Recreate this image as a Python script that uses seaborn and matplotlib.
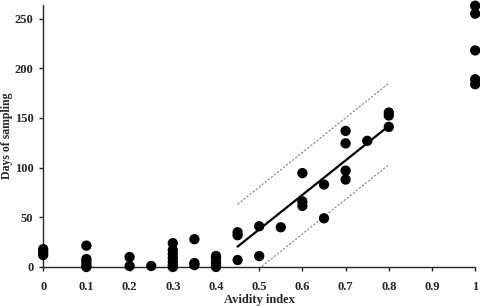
import numpy as np
import pandas as pd
import matplotlib
matplotlib.use("Agg")
import matplotlib.pyplot as plt
import seaborn as sns

# avidity index vs days of sampling
avidity = [0, 0, 0,
           0.1, 0.1, 0.1, 0.1, 0.1,
           0.2, 0.2, 0.25,
           0.3, 0.3, 0.3, 0.3, 0.3, 0.3, 0.3,
           0.35, 0.35, 0.35,
           0.4, 0.4, 0.4, 0.4, 0.4,
           0.45, 0.45, 0.45,
           0.5, 0.5, 0.55,
           0.6, 0.6, 0.6,
           0.65, 0.65,
           0.7, 0.7, 0.7, 0.7,
           0.75,
           0.8, 0.8, 0.8,
           1, 1, 1, 1, 1]
days = [18, 15, 12,
        21.5, 8, 5, 2, 0,
        10, 1, 1,
        24, 17, 13, 9, 5, 2, 0,
        28, 4, 2,
        11, 9, 5, 2, 0,
        35, 32, 7,
        41, 11, 40,
        94.5, 66, 61.5,
        83, 49,
        137, 124.5, 97, 88,
        127,
        155.5, 152.5, 141,
        263, 255, 218, 189, 184]

fit_x = [0.45, 0.8]
fit_y = [20.5, 142]
upper_y = [63, 185]
lower_y = [-19, 103]

df = pd.DataFrame({"avidity": avidity, "days": days})

sns.set_style("white")
plt.rcParams['font.family'] = ['Liberation Serif', 'DejaVu Serif']
plt.rcParams['font.weight'] = 'bold'

fig = plt.figure(figsize=(4.8, 3.06), dpi=100)
ax = fig.add_axes([0.09, 0.1275, 0.9, 0.857])

sns.scatterplot(data=df, x="avidity", y="days", color="black", s=55,
                edgecolor="none", ax=ax, clip_on=False, zorder=3)
ax.plot(fit_x, fit_y, color="black", lw=1.6)
ax.plot(fit_x, upper_y, color="gray", lw=0.8, ls=(0, (2, 1.5)))
ax.plot(fit_x, lower_y, color="gray", lw=0.8, ls=(0, (2, 1.5)))

ax.set_xlim(0, 1)
ax.set_ylim(0, 264)
ax.set_xticks(np.arange(0, 1.01, 0.1))
ax.set_xticklabels(["0", "0.1", "0.2", "0.3", "0.4", "0.5", "0.6", "0.7", "0.8", "0.9", "1"])
ax.set_yticks([0, 50, 100, 150, 200, 250])
ax.tick_params(axis="both", direction="out", length=3, width=1, labelsize=9,
               bottom=True, left=True)
ax.tick_params(axis="x", pad=7)
ax.tick_params(axis="y", pad=4)
for lab in ax.get_xticklabels() + ax.get_yticklabels():
    lab.set_fontweight("bold")

sns.despine(ax=ax)
ax.spines["left"].set_linewidth(1)
ax.spines["bottom"].set_linewidth(1)

ax.set_xlabel("Avidity index", fontsize=9, fontweight="bold", labelpad=1)
ax.set_ylabel("Days of sampling", fontsize=8.5, fontweight="bold", labelpad=1)

fig.savefig("out.png", dpi=100)
